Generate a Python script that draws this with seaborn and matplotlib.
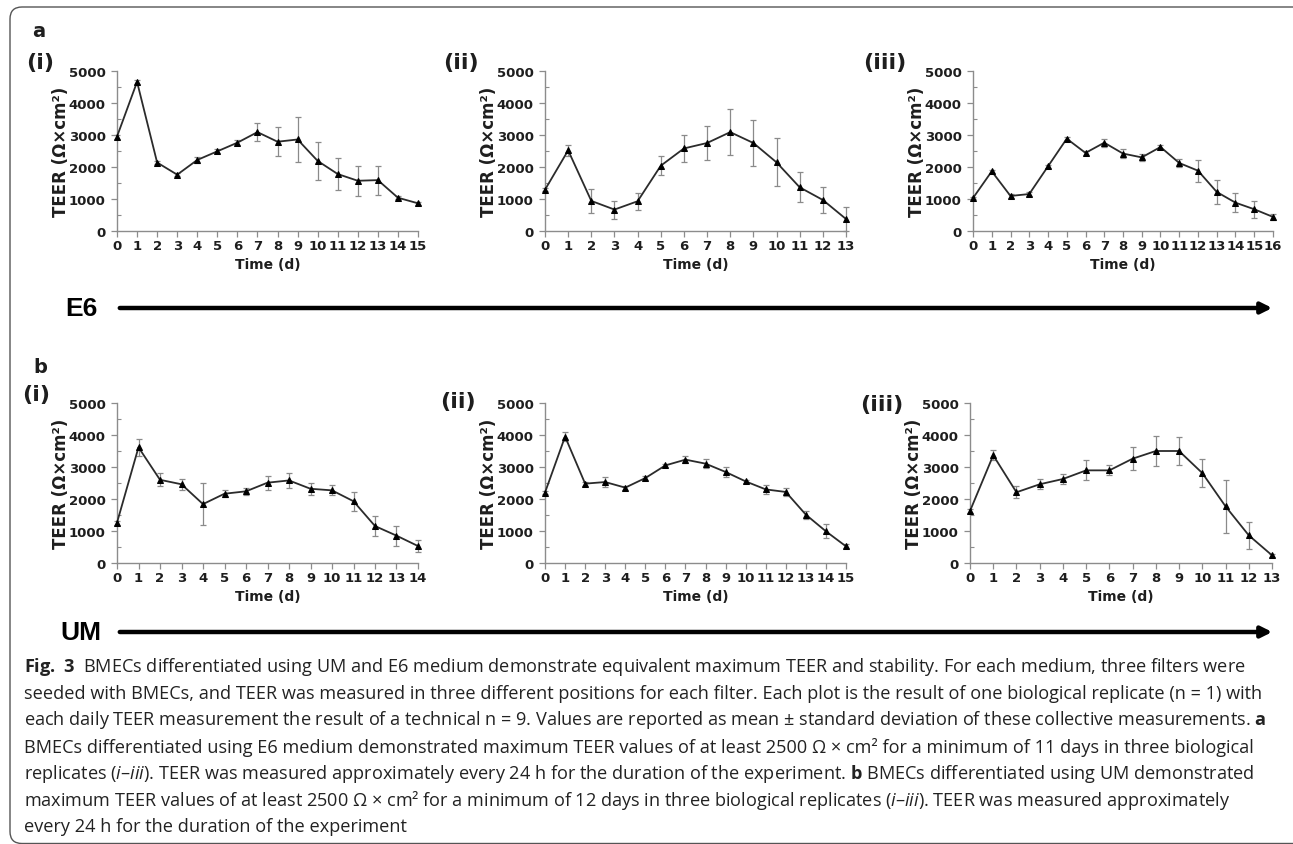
import numpy as np
import pandas as pd
import matplotlib
matplotlib.use('Agg')
import matplotlib.pyplot as plt
import seaborn as sns
from matplotlib.patches import FancyBboxPatch, FancyArrowPatch
from matplotlib.transforms import IdentityTransform
from matplotlib.ticker import MultipleLocator

# TEER (Ohm x cm^2), mean and sd per day
# a: E6 medium, replicates i-iii
e6_i_mean = [2950, 4660, 2140, 1760, 2220, 2490, 2760, 3090, 2790, 2860, 2190, 1780, 1570, 1590, 1040, 865]
e6_i_sd = [60, 60, 50, 50, 80, 60, 80, 290, 450, 690, 600, 510, 470, 450, 50, 40]
e6_ii_mean = [1290, 2520, 940, 670, 930, 2040, 2580, 2750, 3090, 2750, 2145, 1365, 970, 375]
e6_ii_sd = [50, 180, 370, 280, 270, 290, 430, 540, 710, 710, 750, 470, 410, 380]
e6_iii_mean = [1030, 1865, 1095, 1155, 2020, 2885, 2440, 2760, 2420, 2300, 2625, 2125, 1885, 1220, 885, 680, 440]
e6_iii_sd = [40, 50, 50, 60, 50, 50, 60, 130, 150, 120, 50, 110, 340, 375, 300, 270, 100]

# b: UM medium, replicates i-iii
um_i_mean = [1260, 3615, 2600, 2460, 1840, 2165, 2240, 2510, 2580, 2320, 2270, 1930, 1155, 855, 530]
um_i_sd = [60, 270, 200, 180, 650, 110, 110, 220, 240, 190, 160, 300, 320, 310, 190]
um_ii_mean = [2200, 3950, 2480, 2530, 2355, 2655, 3050, 3230, 3105, 2845, 2550, 2300, 2220, 1510, 990, 520]
um_ii_sd = [50, 150, 60, 150, 60, 50, 50, 110, 150, 160, 50, 130, 130, 130, 220, 60]
um_iii_mean = [1625, 3365, 2210, 2460, 2625, 2895, 2895, 3260, 3500, 3500, 2810, 1770, 865, 240]
um_iii_sd = [50, 160, 190, 160, 170, 310, 160, 365, 460, 450, 450, 830, 430, 50]

panel_tags = ['(i)', '(ii)', '(iii)']

caption_lines = [
    r'$\mathbf{Fig.\ 3}$  BMECs differentiated using UM and E6 medium demonstrate equivalent maximum TEER and stability. For each medium, three filters were',
    'seeded with BMECs, and TEER was measured in three different positions for each filter. Each plot is the result of one biological replicate (n = 1) with',
    r'each daily TEER measurement the result of a technical n = 9. Values are reported as mean ± standard deviation of these collective measurements. $\mathbf{a}$',
    'BMECs differentiated using E6 medium demonstrated maximum TEER values of at least 2500 Ω × cm² for a minimum of 11 days in three biological',
    r'replicates ($\mathit{i}$–$\mathit{iii}$). TEER was measured approximately every 24 h for the duration of the experiment. $\mathbf{b}$ BMECs differentiated using UM demonstrated',
    r'maximum TEER values of at least 2500 Ω × cm² for a minimum of 12 days in three biological replicates ($\mathit{i}$–$\mathit{iii}$). TEER was measured approximately',
    'every 24 h for the duration of the experiment',
]

sns.set_style('ticks')
plt.rcParams['font.family'] = ['DejaVu Sans']
plt.rcParams['mathtext.fontset'] = 'custom'
plt.rcParams['mathtext.rm'] = 'Open Sans'
plt.rcParams['mathtext.it'] = 'Open Sans:italic'
plt.rcParams['mathtext.bf'] = 'Open Sans:bold'

W, H = 1293, 845
fig = plt.figure(figsize=(W / 100, H / 100), dpi=100)
fig.patch.set_facecolor('white')

SPINE = '#8c8c8c'
TXT = '#1e1e1e'


def fx(x):
    return x / W


def fy(y):
    return 1 - y / H


def add_px_axes(x0, y0, x1, y1):
    return fig.add_axes([fx(x0), fy(y1), (x1 - x0) / W, (y1 - y0) / H])


def draw_panel(ax, mean, sd, x0, x1, y0, y1):
    days = np.arange(len(mean))
    df = pd.DataFrame({'day': days, 'teer': mean})
    ax.errorbar(days, mean, yerr=sd, fmt='none', ecolor='#8a8a8a', elinewidth=0.9,
                capsize=2.5, capthick=0.9, clip_on=False, zorder=2)
    sns.lineplot(data=df, x='day', y='teer', ax=ax, color='#2b2b2b', lw=1.3,
                 marker='^', markersize=4.5, markeredgecolor='black',
                 markerfacecolor='black', clip_on=False, zorder=3)
    ax.set_xlim(0, len(mean) - 1)
    ax.set_ylim(0, 5000)
    ax.set_xticks(days)
    ax.set_yticks(range(0, 5001, 1000))
    ax.yaxis.set_minor_locator(MultipleLocator(500))
    sns.despine(ax=ax)
    for s in ['left', 'bottom']:
        ax.spines[s].set_color(SPINE)
        ax.spines[s].set_linewidth(1.0)
    ax.tick_params(axis='x', direction='out', length=4, width=0.9, color=SPINE,
                   pad=1.5, labelsize=9.5, labelcolor=TXT)
    ax.tick_params(axis='y', which='major', direction='out', length=4, width=0.9,
                   color=SPINE, pad=4, labelsize=9.5, labelcolor=TXT)
    ax.tick_params(axis='y', which='minor', direction='in', length=3, width=0.8, color=SPINE)
    for lab in ax.get_xticklabels() + ax.get_yticklabels():
        lab.set_fontweight('bold')
    ax.set_xlabel('Time (d)', fontsize=10, fontweight='bold', color=TXT)
    ax.set_ylabel('TEER (Ω×cm²)', fontsize=12, fontweight='bold', color=TXT)
    w = x1 - x0
    h = y1 - y0
    ax.yaxis.set_label_coords((70 - 117) / w, 0.5)
    ax.xaxis.set_label_coords(0.5, -(258 - 232) / h)
    ax.set_facecolor('white')


# axes boxes in pixels (x0, y0, x1, y1)
boxes_a = [(117, 72, 418, 232), (545, 72, 846, 232), (973, 72, 1273, 232)]
boxes_b = [(117, 404, 418, 564), (545, 404, 846, 564), (970, 404, 1272, 564)]

data_a = [(e6_i_mean, e6_i_sd), (e6_ii_mean, e6_ii_sd), (e6_iii_mean, e6_iii_sd)]
data_b = [(um_i_mean, um_i_sd), (um_ii_mean, um_ii_sd), (um_iii_mean, um_iii_sd)]

for (x0, y0, x1, y1), (m, s) in zip(boxes_a + boxes_b, data_a + data_b):
    ax = add_px_axes(x0, y0, x1, y1)
    draw_panel(ax, m, s, x0, x1, y0, y1)

# panel tags
tag_pos_a = [(40, 63), (461, 63), (885, 63)]
tag_pos_b = [(36, 395), (458, 402), (882, 405)]
for tag, (x, y) in zip(panel_tags * 2, tag_pos_a + tag_pos_b):
    fig.text(fx(x), fy(y), tag, ha='center', va='center', fontsize=16,
             fontweight='bold', color=TXT)

fig.text(fx(32), fy(37), 'a', ha='left', va='baseline', fontsize=14, fontweight='bold', color=TXT)
fig.text(fx(33), fy(373), 'b', ha='left', va='baseline', fontsize=14, fontweight='bold', color=TXT)

# medium arrows
for name, x_txt, y in [('E6', 65, 309), ('UM', 60, 633)]:
    fig.text(fx(x_txt), fy(y), name, ha='left', va='center', fontsize=19,
             fontweight='bold', family=['Liberation Sans', 'DejaVu Sans'], color='black')
    arr = FancyArrowPatch((fx(117), fy(y)), (fx(1275), fy(y)), transform=fig.transFigure,
                          arrowstyle='-|>', mutation_scale=16, lw=3.2, color='black')
    fig.add_artist(arr)

# caption
for i, line in enumerate(caption_lines):
    fig.text(fx(24), fy(667 + 26.7 * i), line, ha='left', va='center', fontsize=13.1,
             family=['Open Sans', 'DejaVu Sans'], color='#222222')

# frame with rounded corners (right side runs off the page)
frame = FancyBboxPatch((10, 0.5), 1400, H - 8 - 0.5, boxstyle='round,pad=0,rounding_size=12',
                       transform=IdentityTransform(), fill=False, ec='#555555', lw=1.0)
fig.add_artist(frame)

fig.savefig('out.png', dpi=100)
